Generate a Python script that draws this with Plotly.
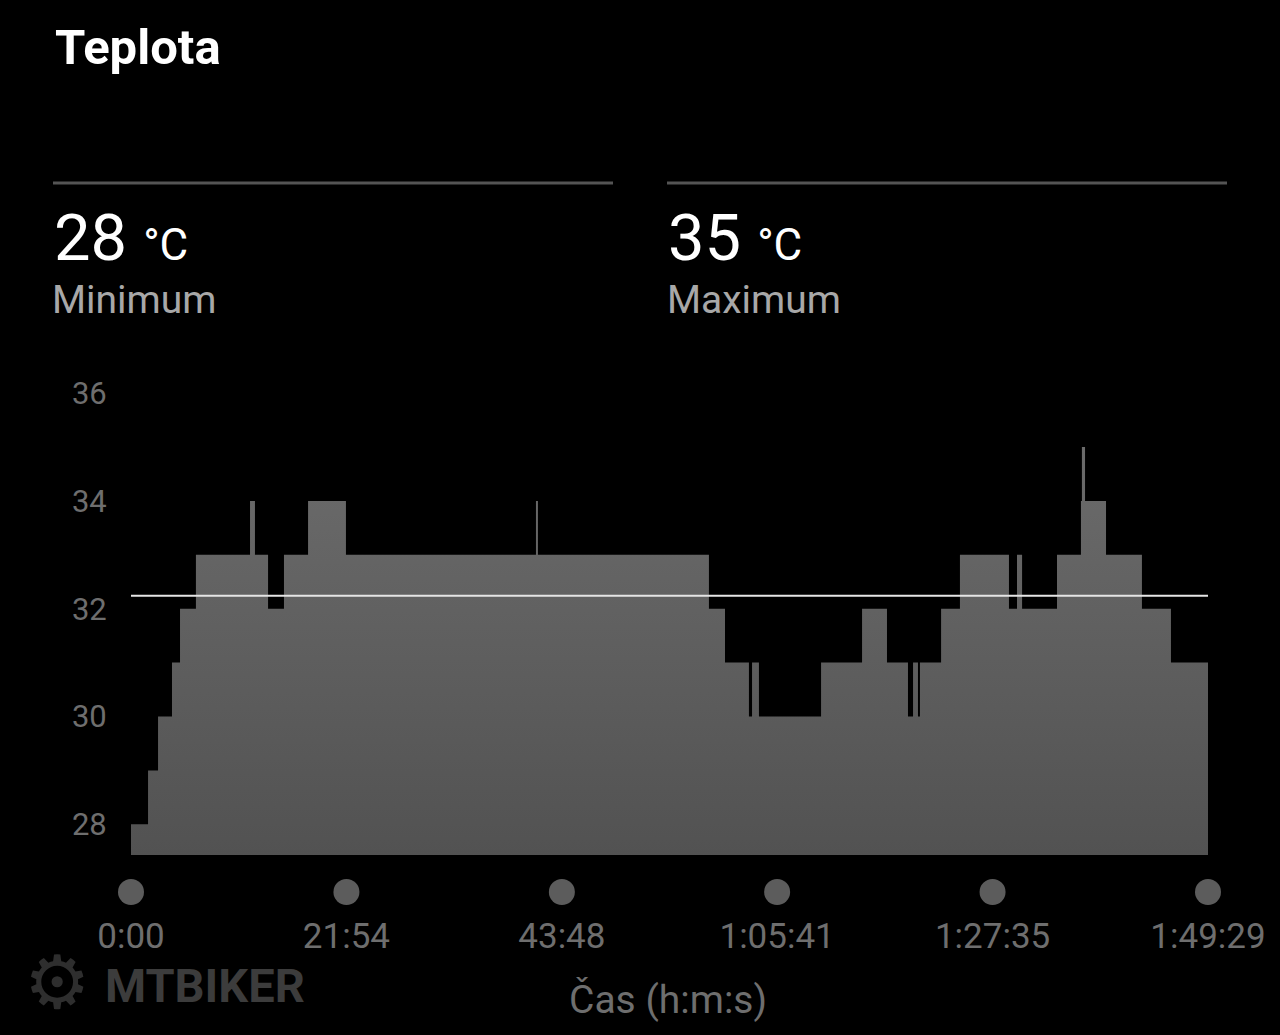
import plotly.graph_objects as go

# ---- data (seconds from start, temperature in °C, step changes) ----
step_times_s = [0, 104, 165, 250, 299, 396, 726, 756, 836, 933, 1080, 1311, 2470, 2482,
                3525, 3623, 3769, 3788, 3830, 4209, 4459, 4611, 4739, 4770, 4800, 4812,
                4941, 5056, 5355, 5404, 5435, 5648, 5794, 5800, 5819, 5947, 6166, 6343]
step_temps = [28, 29, 30, 31, 32, 33, 34, 33, 32, 33, 34, 33, 34, 33,
              32, 31, 30, 31, 30, 31, 32, 31, 30, 31, 30, 31,
              32, 33, 32, 33, 32, 33, 34, 35, 34, 33, 32, 31]
end_time_s = 6569
avg_temp = 32.24

x_tick_vals = [0, 1314, 2628, 3941, 5255, 6569]
x_tick_text = ["0:00", "21:54", "43:48", "1:05:41", "1:27:35", "1:49:29"]
y_tick_vals = [28, 30, 32, 34, 36]
y_tick_text = ["28", "30", "32", "34", "36"]

min_temp, max_temp = 28, 35
title_text = "Teplota"
x_title = "Čas (h:m:s)"

# ---- layout geometry ----
W, H = 1280, 1035
L, R, T, B = 131, 1208, 377, 855
x_range = [0, end_time_s]
y_range = [27.43, 36.3]


def px(x):
    return (x - L) / (R - L)


def py(y):
    return (B - y) / (B - T)


def x_to_paper(v):
    return (v - x_range[0]) / (x_range[1] - x_range[0])


xs = step_times_s + [end_time_s]
ys = step_temps + [step_temps[-1]]

FONT = "Roboto"
fig = go.Figure()

fig.add_trace(go.Scatter(
    x=xs, y=ys, mode="lines", line=dict(shape="hv", width=0, color="rgba(0,0,0,0)"),
    fill="tozeroy",
    fillgradient=dict(type="vertical", start=y_range[0], stop=max_temp,
                      colorscale=[[0, "#525252"], [1, "#6b6b6b"]]),
    hoverinfo="skip", showlegend=False,
))

# average line
fig.add_trace(go.Scatter(
    x=[0, end_time_s], y=[avg_temp, avg_temp], mode="lines",
    line=dict(color="#e6e6e6", width=2), hoverinfo="skip", showlegend=False,
))

fig.update_layout(
    width=W, height=H,
    margin=dict(l=L, r=W - R, t=T, b=H - B, pad=0),
    paper_bgcolor="#000000", plot_bgcolor="#000000",
    font=dict(family=FONT, color="#6e6e6e"),
    xaxis=dict(range=x_range, tickmode="array", tickvals=x_tick_vals,
               ticktext=x_tick_text, showgrid=False, zeroline=False, showline=False,
               ticks="outside", ticklen=50, tickcolor="rgba(0,0,0,0)",
               tickfont=dict(size=35, color="#6e6e6e", family=FONT)),
    yaxis=dict(range=y_range, tickmode="array", tickvals=y_tick_vals,
               ticktext=y_tick_text, showgrid=False, zeroline=False, showline=False,
               ticks="outside", ticklen=17, tickcolor="rgba(0,0,0,0)",
               tickfont=dict(size=31, color="#6e6e6e", family=FONT)),
)

# tick dots below the plot, placed at the tick values
for tv in x_tick_vals:
    fig.add_shape(type="circle", xref="paper", yref="paper", xsizemode="pixel", ysizemode="pixel",
                  xanchor=x_to_paper(tv), yanchor=py(892), x0=-13, x1=13, y0=-13, y1=13,
                  fillcolor="#5c5c5c", line=dict(width=0), layer="above")

annos = [
    dict(text=f"<b>{title_text}</b>", x=px(53), y=py(47), size=49, color="#ffffff", anchor="left"),
    dict(text=f"{min_temp} <span style='font-size:44px'>°C</span>", x=px(52), y=py(238), size=65,
         color="#ffffff", anchor="left"),
    dict(text="Minimum", x=px(50), y=py(300), size=39, color="#a8a8a8", anchor="left"),
    dict(text=f"{max_temp} <span style='font-size:44px'>°C</span>", x=px(666), y=py(238), size=65,
         color="#ffffff", anchor="left"),
    dict(text="Maximum", x=px(665), y=py(300), size=39, color="#a8a8a8", anchor="left"),
    dict(text=x_title, x=px(668), y=py(1000), size=39, color="#6e6e6e", anchor="center"),
    dict(text="<b>MTBIKER</b>", x=px(103), y=py(985), size=47, color="#3c3c3c", anchor="left"),
    dict(text="⚙", x=px(57), y=py(982), size=74, color="#2e2e2e", anchor="center"),
]
for a in annos:
    fig.add_annotation(text=a["text"], xref="paper", yref="paper", x=a["x"], y=a["y"],
                       xanchor=a["anchor"], yanchor="middle", showarrow=False,
                       font=dict(size=a["size"], color=a["color"], family=FONT))

# separator lines
for x0, x1 in [(53, 613), (667, 1227)]:
    fig.add_shape(type="line", xref="paper", yref="paper", x0=px(x0), x1=px(x1),
                  y0=py(183), y1=py(183), line=dict(color="#545454", width=3))

fig.write_html(
    "out.html",
    config={"displayModeBar": False},
    post_script="document.body.style.margin='0';document.body.style.background='#000';"
                "document.documentElement.style.overflow='hidden';",
)
